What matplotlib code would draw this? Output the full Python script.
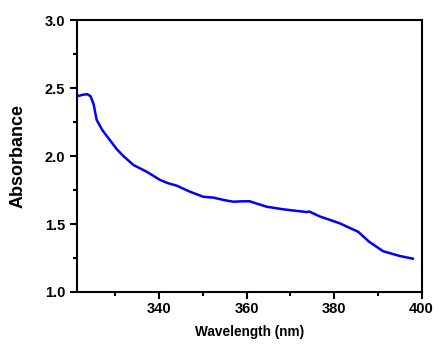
import matplotlib

matplotlib.use("Agg")
import matplotlib.pyplot as plt  # noqa: E402
from matplotlib.ticker import MultipleLocator  # noqa: E402

# absorbance spectrum
wavelength = [321.2, 322.5, 323.5, 324.3, 325.0, 325.7, 327.0, 328.7, 330.3, 331.8,
              334.1, 337.1, 340.2, 342.0, 344.0, 347.0, 350.1, 352.4, 355.0, 357.0,
              359.0, 360.7, 362.5, 364.6, 368.4, 371.0, 373.7, 374.3, 376.7, 381.3,
              385.5, 388.0, 391.2, 395.0, 398.0]
absorbance = [2.44, 2.45, 2.455, 2.44, 2.38, 2.265, 2.19, 2.118, 2.05, 2.0,
              1.934, 1.885, 1.824, 1.80, 1.782, 1.738, 1.70, 1.694, 1.675, 1.664,
              1.667, 1.667, 1.648, 1.627, 1.608, 1.598, 1.588, 1.592, 1.556, 1.505,
              1.443, 1.37, 1.30, 1.265, 1.245]

plt.rcParams["font.family"] = ["Liberation Sans", "DejaVu Sans"]
plt.rcParams["font.weight"] = "bold"

fig = plt.figure(figsize=(4.47, 3.55), dpi=100)
ax = fig.add_axes([0.1723, 0.1775, 0.7707, 0.766])
ax.plot(wavelength, absorbance, color="#0000ff", lw=1.8)

ax.set_xlim(321.2, 400)
ax.set_ylim(1.0, 3.0)
ax.xaxis.set_major_locator(MultipleLocator(20))
ax.xaxis.set_minor_locator(MultipleLocator(10))
ax.yaxis.set_major_locator(MultipleLocator(0.5))
ax.yaxis.set_minor_locator(MultipleLocator(0.25))
ax.tick_params(which="both", direction="out", width=1.5, top=False, right=False, labelsize=10.5)
ax.tick_params(which="major", length=5)
ax.tick_params(which="minor", length=3)
ax.tick_params(axis="x", pad=2.5)
for s in ax.spines.values():
    s.set_linewidth(1.5)

ax.set_xlabel("Wavelength (nm)", fontsize=9.8, fontweight="bold", labelpad=6)
ax.set_ylabel("Absorbance", fontsize=13, fontweight="bold", labelpad=13)

fig.savefig("out.png", dpi=100)
